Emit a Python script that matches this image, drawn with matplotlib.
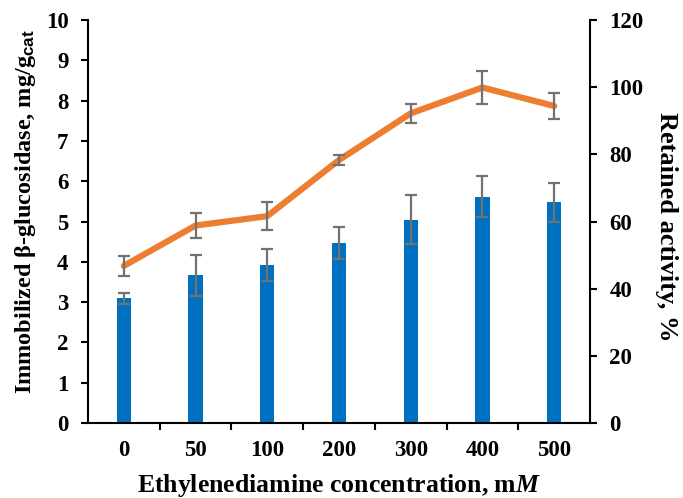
import numpy as np
import matplotlib.pyplot as plt
from matplotlib.ticker import FixedLocator

plt.rcParams['font.family'] = 'Liberation Serif'
plt.rcParams['font.weight'] = 'bold'
plt.rcParams['mathtext.fontset'] = 'custom'
plt.rcParams['mathtext.rm'] = 'Liberation Serif:bold'
plt.rcParams['mathtext.it'] = 'Liberation Serif:bold:italic'
plt.rcParams['mathtext.sf'] = 'Liberation Sans'

# Данные
labels = ['0', '50', '100', '200', '300', '400', '500']
loading = [3.09, 3.67, 3.92, 4.46, 5.04, 5.62, 5.48]
loading_err = [0.14, 0.51, 0.40, 0.40, 0.61, 0.52, 0.48]
activity = [46.8, 58.8, 61.6, 78.3, 92.2, 99.9, 94.4]
activity_err = [2.9, 3.8, 4.2, 1.5, 2.9, 4.8, 3.9]

x = np.arange(len(labels))

fig = plt.figure(figsize=(6.83, 4.98), dpi=100)
ax = fig.add_axes([0.1288, 0.1506, 0.7350, 0.8092])

ax.bar(x, loading, width=0.2, color='#0070C0', zorder=2)
ax.errorbar(x, loading, yerr=loading_err, fmt='none', ecolor='#727272',
            elinewidth=1.6, capsize=4, capthick=1.6, zorder=3)
ax.set_xlim(-0.5, len(labels) - 0.5)
ax.set_ylim(0, 10)
ax.set_yticks(range(0, 11))
ax.set_xticks(x)
ax.set_xticklabels(labels)
ax.xaxis.set_minor_locator(FixedLocator(np.arange(0.5, len(labels) - 0.5, 1)))
ax.tick_params(axis='x', which='major', length=0, pad=12, labelsize=16.5)
ax.tick_params(axis='x', which='minor', length=5, width=1.5, direction='out')
ax.tick_params(axis='y', length=5, width=1.5, direction='out', labelsize=16.5, pad=9)
ax.spines['top'].set_visible(False)
ax.spines['right'].set_visible(False)
for s in ['left', 'bottom']:
    ax.spines[s].set_linewidth(1.5)

ax.set_xlabel('Ethylenediamine concentration, m$\\mathit{M}$', fontsize=18.5,
              fontweight='bold', va='center')
ax.xaxis.set_label_coords(0.5, -0.156)
ax.set_ylabel('Immobilized β-glucosidase, mg/g$_{\\mathsf{cat}}$', fontsize=17.5,
              fontweight='bold', va='center')
ax.yaxis.set_label_coords(-0.125, 0.525)

ax2 = ax.twinx()
ax2.plot(x, activity, color='#ED7D31', linewidth=4.5, zorder=2,
         solid_capstyle='round')
ax2.errorbar(x, activity, yerr=activity_err, fmt='none', ecolor='#727272',
             elinewidth=1.6, capsize=4, capthick=1.6, zorder=3)
ax2.set_ylim(0, 120)
ax2.set_yticks(range(0, 121, 20))
ax2.tick_params(axis='y', length=5, width=1.5, direction='out', labelsize=16.5, pad=9)
ax2.spines['top'].set_visible(False)
ax2.spines['left'].set_visible(False)
ax2.spines['bottom'].set_visible(False)
ax2.spines['right'].set_linewidth(1.5)
ax2.set_ylabel('Retained activity, %', fontsize=19, fontweight='bold',
               rotation=270, va='center')
ax2.yaxis.set_label_coords(1.153, 0.4876)

fig.savefig('out.png', dpi=100)
